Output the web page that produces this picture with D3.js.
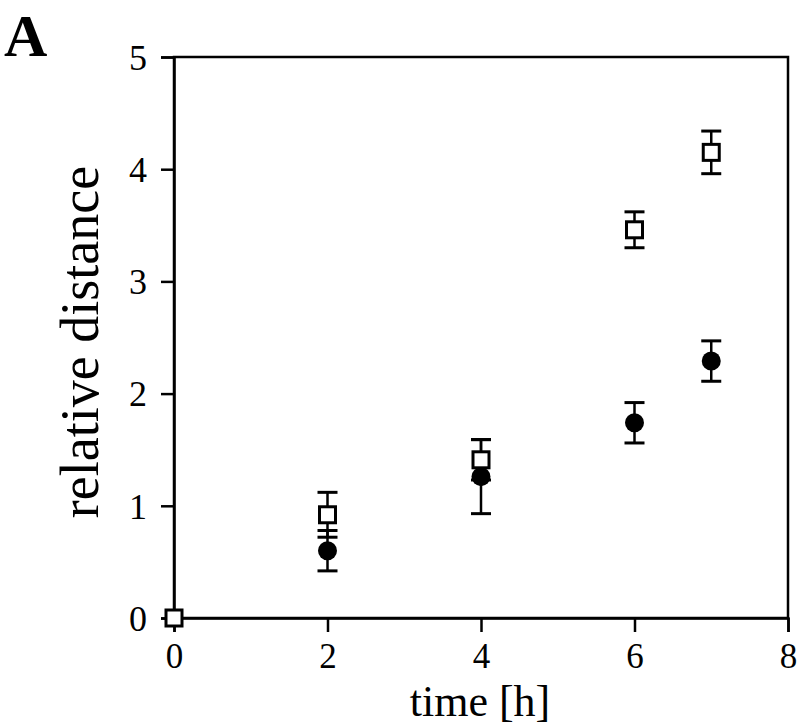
<!DOCTYPE html>
<html><head><meta charset="utf-8">
<script src="https://cdn.jsdelivr.net/npm/d3@7"></script>
<style>body{margin:0;background:#fff}</style>
</head><body>
<svg id="c" width="800" height="725"></svg>
<script>
const xTicks = [0, 2, 4, 6, 8];
const yTicks = [0, 1, 2, 3, 4, 5];
const timeOpen = [0, 2, 4, 6, 7];
const valOpen = [0.0, 0.92, 1.41, 3.46, 4.15];
const errOpen = [0.0, 0.20, 0.18, 0.16, 0.19];
const timeFilled = [2, 4, 6, 7];
const valFilled = [0.60, 1.26, 1.74, 2.29];
const errFilled = [0.18, 0.33, 0.18, 0.18];

const svg = d3.select("#c");
const m = {l:174, r:788, t:57, b:618};
const x = d3.scaleLinear().domain([0, 8]).range([m.l, m.r]);
const y = d3.scaleLinear().domain([0, 5]).range([m.b, m.t]);
const font = "Liberation Serif, Times New Roman, serif";

svg.append("rect").attr("x", m.l).attr("y", m.t).attr("width", m.r - m.l).attr("height", m.b - m.t)
  .attr("fill", "none").attr("stroke", "#000").attr("stroke-width", 2.5);

const xAxis = svg.append("g").attr("transform", `translate(0,${m.b})`)
  .call(d3.axisBottom(x).tickValues(xTicks).tickFormat(d3.format("d")).tickSize(14).tickPadding(11));
const yAxis = svg.append("g").attr("transform", `translate(${m.l},0)`)
  .call(d3.axisLeft(y).tickValues(yTicks).tickFormat(d3.format("d")).tickSize(13).tickPadding(14));
[xAxis, yAxis].forEach(a => {
  a.select(".domain").attr("stroke-width", 2.5);
  a.selectAll(".tick line").attr("stroke-width", 2.5);
  a.selectAll(".tick text").attr("font-family", font).attr("font-size", 36).attr("fill", "#000");
});
xAxis.selectAll(".tick text").attr("font-size", 35);
yAxis.selectAll(".tick text").attr("dy", "0.34em");

function drawSeries(ts, vs, es, filled) {
  const g = svg.append("g");
  ts.forEach((t, i) => {
    const cx = x(t), cy = y(vs[i]);
    if (es[i] > 0) {
      const y1 = y(vs[i] + es[i]), y2 = y(vs[i] - es[i]);
      g.append("line").attr("x1", cx).attr("x2", cx).attr("y1", y1).attr("y2", y2).attr("stroke", "#000").attr("stroke-width", 2.5);
      [y1, y2].forEach(yy => g.append("line").attr("x1", cx - 10).attr("x2", cx + 10).attr("y1", yy).attr("y2", yy).attr("stroke", "#000").attr("stroke-width", 3));
    }
    if (filled) {
      g.append("circle").attr("cx", cx).attr("cy", cy).attr("r", 9.5).attr("fill", "#000");
    } else {
      g.append("rect").attr("x", cx - 8).attr("y", cy - 8).attr("width", 16).attr("height", 16)
        .attr("fill", "#fff").attr("stroke", "#000").attr("stroke-width", 3);
    }
  });
}
drawSeries(timeFilled, valFilled, errFilled, true);
drawSeries(timeOpen, valOpen, errOpen, false);

svg.append("text").attr("x", 480).attr("y", 716).attr("text-anchor", "middle")
  .attr("font-family", font).attr("font-size", 44).text("time [h]");
svg.append("text").attr("transform", `translate(98,342) rotate(-90)`).attr("text-anchor", "middle")
  .attr("font-family", font).attr("font-size", 54).text("relative distance");
svg.append("text").attr("x", 4).attr("y", 56).attr("font-family", font).attr("font-weight", "bold")
  .attr("font-size", 60).text("A");
</script>
</body></html>
